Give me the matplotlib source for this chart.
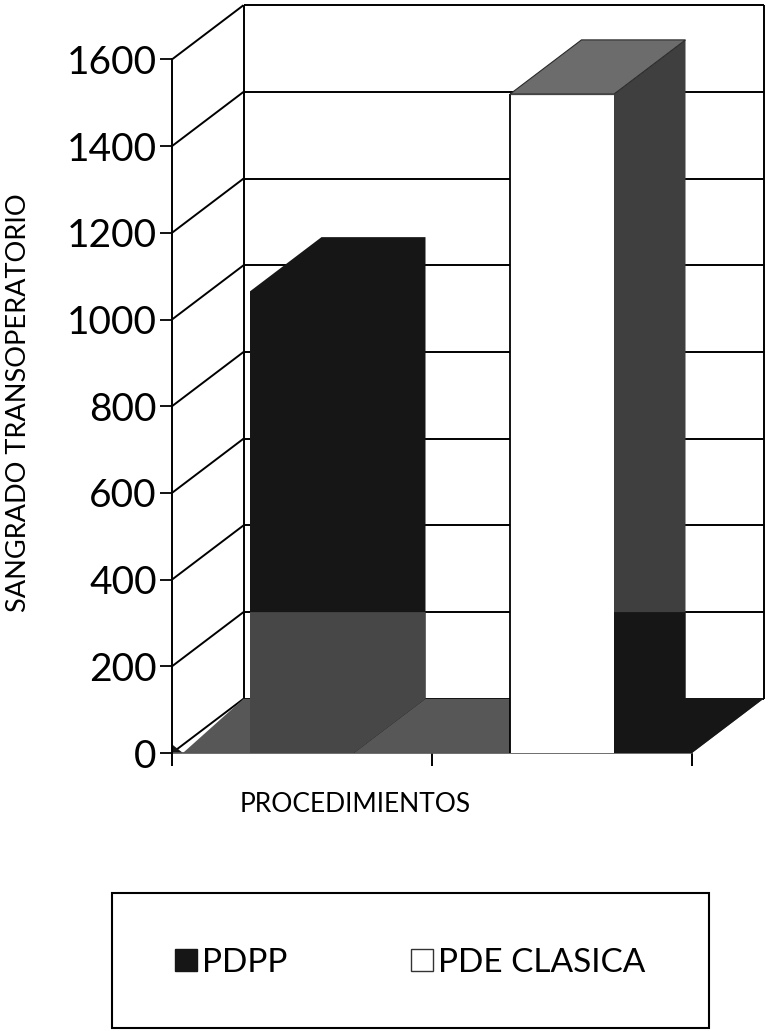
import matplotlib
matplotlib.use("Agg")
import matplotlib.pyplot as plt
from matplotlib.patches import Polygon, Patch, Rectangle

plt.rcParams['font.family'] = ['Lato', 'DejaVu Sans']

# ---- data ----
series_names = ["PDPP", "PDE CLASICA"]
values = [1065, 1520]
y_ticks = [0, 200, 400, 600, 800, 1000, 1200, 1400, 1600]
y_label = "SANGRADO TRANSOPERATORIO"
x_label = "PROCEDIMIENTOS"

# ---- layout of the pseudo-3D box ----
W, H = 770, 1031
NCAT = 2            # category slots along the floor
DX = 0.275          # depth shift (category units)
DY = 125            # depth shift (value units)
YMAX = 1600
BAR_W = 0.4
BAND = 200 + DY     # lower two-tone band reaches the 200 line on the back wall

BLACK = '#161616'
FLOOR = '#575757'
BAND_GREY = '#474747'
SIDE_GREY = '#3f3f3f'
TOP_GREY = '#6c6c6c'

px_cat, px_val, x0, y0 = 260, 0.4335, 172, 753

fig = plt.figure(figsize=(W / 100, H / 100), dpi=100)
ax = fig.add_axes([x0 / W, (H - y0) / H,
                   (NCAT + DX) * px_cat / W, (YMAX + DY) * px_val / H])
ax.set_xlim(0, NCAT + DX)
ax.set_ylim(0, YMAX + DY)
ax.patch.set_visible(False)


def poly(pts, fc, z, ec='none', lw=0):
    ax.add_patch(Polygon(pts, closed=True, facecolor=fc, edgecolor=ec,
                         linewidth=lw, zorder=z, clip_on=False))


def line(xs, ys, z=1.5, lw=1.4, c='black'):
    ax.plot(xs, ys, color=c, lw=lw, zorder=z, clip_on=False,
            solid_capstyle='butt')


# back wall and left wall
poly([(DX, DY), (NCAT + DX, DY), (NCAT + DX, YMAX + DY), (DX, YMAX + DY)], 'white', 0)
for v in y_ticks:
    line([DX, NCAT + DX], [v + DY, v + DY])
    line([0, DX], [v, v + DY])
line([DX, DX], [DY, YMAX + DY])
line([NCAT + DX, NCAT + DX], [DY, YMAX + DY])

# floor
poly([(0.042, 0), (NCAT, 0), (NCAT + DX, DY), (DX, DY)], FLOOR, 2)
poly([(0, 0), (0.042, 0), (0, 20)], BLACK, 2.1)

# bars
x_centers = [0.5 + i for i in range(len(values))]

# first series: solid black box with grey lower band
xc, v = x_centers[0], values[0]
xl, xr = xc - BAR_W / 2, xc + BAR_W / 2
poly([(xl, 0), (xr, 0), (xr + DX, DY), (xr + DX, v + DY), (xl + DX, v + DY),
      (xl, v)], BLACK, 3)
poly([(xl, 0), (xr, 0), (xr + DX, DY), (xr + DX, BAND), (xl, BAND)], BAND_GREY, 3.1)

# second series: white front, grey top and side, black lower band and floor
xc, v = x_centers[1], values[1]
xl, xr = xc - BAR_W / 2, xc + BAR_W / 2
poly([(xr, 0), (xr + DX, DY), (xr + DX, v + DY), (xr, v)], SIDE_GREY, 3)
poly([(xl, v), (xr, v), (xr + DX, v + DY), (xl + DX, v + DY)], TOP_GREY, 3,
     ec='#2a2a2a', lw=0.8)
poly([(xl, 0), (xr, 0), (xr, v), (xl, v)], 'white', 3.2)
line([xl, xl], [0, v], z=3.3, lw=1.3)
line([xl, xr], [v, v], z=3.3, lw=0.9, c='#444444')
poly([(xr, 0), (NCAT, 0), (NCAT + DX, DY), (xr + DX, DY), (xr + DX, BAND),
      (xr, BAND)], BLACK, 3.1)

# axes: front value axis and category axis
for s in ['top', 'right']:
    ax.spines[s].set_visible(False)
ax.spines['left'].set_bounds(0, YMAX)
ax.spines['left'].set_linewidth(1.4)
ax.spines['left'].set_zorder(4)
ax.spines['bottom'].set_bounds(0, NCAT)
ax.spines['bottom'].set_linewidth(1.2)
ax.spines['bottom'].set_color('#555555')
ax.set_yticks(y_ticks)
ax.set_yticklabels([str(t) for t in y_ticks])
ax.set_xticks(range(NCAT + 1))
ax.set_xticklabels([])
ax.tick_params(axis='y', direction='out', length=9, width=1.3, labelsize=28, pad=2)
ax.tick_params(axis='x', direction='out', length=9, width=1.4, color='black')

fig.text(355 / W, 1 - 804 / H, x_label, ha='center', va='center', fontsize=19)
fig.text(19 / W, 1 - 403 / H, y_label, ha='center', va='center',
         rotation=90, fontsize=19.5)

# legend: entries spread across a framed box
fig.add_artist(Rectangle((112 / W, 1 - 1028 / H), 597 / W, 135 / H,
                         transform=fig.transFigure, facecolor='white',
                         edgecolor='black', linewidth=1.5))
handles = [Patch(facecolor=BLACK, edgecolor=BLACK),
           Patch(facecolor='white', edgecolor='#333333', linewidth=1)]
leg = fig.legend(handles, series_names, loc='center',
                 bbox_to_anchor=(175 / W, 1 - 985 / H, 470 / W, 45 / H),
                 mode='expand', ncol=2, fontsize=24, frameon=False,
                 borderpad=0, handlelength=0.65, handleheight=0.65,
                 handletextpad=0.15, borderaxespad=0)

fig.savefig('out.png', dpi=100)
